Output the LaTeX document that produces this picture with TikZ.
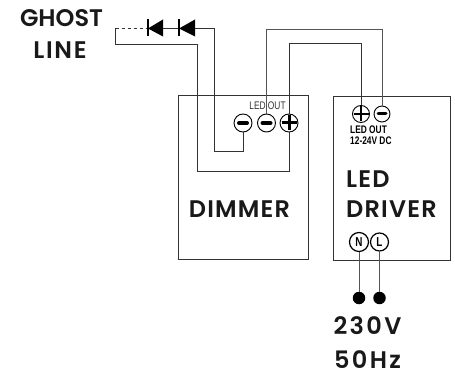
\documentclass[tikz,border=0pt]{standalone}
\usepackage{fontspec}
\setmainfont{Poppins}[BoldFont={Poppins SemiBold}]
\newfontfamily\condfont[FakeStretch=0.76]{Liberation Sans}
\newfontfamily\spacedA[LetterSpace=5,BoldFont={Poppins SemiBold}]{Poppins}
\newfontfamily\spacedB[LetterSpace=0,BoldFont={Poppins SemiBold}]{Poppins}
\newfontfamily\spacedC[LetterSpace=10,BoldFont={Poppins SemiBold}]{Poppins}
\newfontfamily\spacedD[LetterSpace=7,BoldFont={Poppins SemiBold}]{Poppins}
\definecolor{wiredark}{gray}{0.2}
\definecolor{wiregray}{gray}{0.33}
\begin{document}
\begin{tikzpicture}[x=1pt,y=-1pt,
  boxnode/.style={draw=wiredark,line width=1pt,inner sep=0pt,minimum width=#1,anchor=north west},
  term/.style={circle,draw=black,line width=0.9pt,inner sep=0pt,minimum size=#1,fill=white},
  wire/.style={draw=wiredark,line width=1pt},
  graywire/.style={draw=wiregray,line width=1pt},
  dotnode/.style={circle,fill=black,inner sep=0pt,minimum size=12.5pt},
  biglabel/.style={font=\fontsize{24}{24}\selectfont\spacedA\bfseries,text=black!90,inner sep=0pt,align=center},
  tinylabel/.style={font=\fontsize{11}{11}\selectfont\condfont\bfseries,inner sep=0pt,text=black},
  ledlabel/.style={font=\fontsize{11}{11}\selectfont\condfont,inner sep=0pt,text=black!80},
  sym/.style={line width=3pt,black}]
\useasboundingbox (0,0) rectangle (455,374);
\fill[white] (0,0) rectangle (455,374);
% boxes
\node[boxnode=130pt,minimum height=163pt] (dimmer) at (177.5,95.5) {};
\node[boxnode=117pt,minimum height=163pt] (driver) at (332.5,96.5) {};
% terminals
\node[term=18pt] (dm1) at (243,123) {};
\node[term=18pt] (dm2) at (266.5,123) {};
\node[term=18pt] (dp) at (289,123) {};
\node[term=17pt] (lp) at (361,114) {};
\node[term=16pt] (lm) at (382,114) {};
\node[term=19pt,line width=1.2pt] (tn) at (359,242) {};
\node[term=18pt,line width=1.2pt] (tl) at (379.5,242) {};
\node[dotnode] (dotn) at (359,298) {};
\node[dotnode] (dotl) at (379.5,298) {};
% ghost line
\coordinate (gs) at (115.5,28.5);
\coordinate (d1) at (148,28.5);
\coordinate (d1b) at (163,28.5);
\coordinate (d2) at (179,28.5);
\coordinate (d2b) at (195,28.5);
\coordinate (tr) at (214.5,28.5);
\coordinate (br) at (115.5,44.5);
\coordinate (bd) at (197.5,44.5);
% wires
\draw[wire] (d2b) -- (tr) -- (tr |- 0,151.5) -| (dm1.south);
\draw[wire] (d1b) -- (d2);
\draw[graywire,draw=wiredark] (gs) -- (br) -- (bd) -- (bd |- 0,171.5) -| (dp.south);
\draw[wire,dash pattern=on 3pt off 3pt] (gs) -- (d1);
\draw[graywire] (dm2.north) -- (dm2.north |- 0,29.5) -| (lm.north);
\draw[wire] (dp.north) -- (dp.north |- 0,43.5) -| (lp.north);
\draw[graywire] (tn.south) -- (dotn);
\draw[graywire] (tl.south) -- (dotl);
% diodes
\fill[black] (d1b |- 0,19.5) -- (d1) -- (d1b |- 0,36.5) -- cycle;
\draw[black,line width=1.4pt] (148,19.5) -- (148,36.5);
\fill[black] (d2b |- 0,19.5) -- (d2) -- (d2b |- 0,36.5) -- cycle;
\draw[black,line width=1.4pt] (179,19.5) -- (179,36.5);
% symbols
\draw[sym,line width=4pt,line cap=round] (239,123) -- (247,123);
\draw[sym,line width=4pt,line cap=round] (262.5,123) -- (270.5,123);
\draw[sym] (281.5,123) -- (296.5,123) (289,115.5) -- (289,130.5);
\draw[sym,line width=2.2pt] (353.5,114) -- (368.5,114) (361,106.5) -- (361,121.5);
\draw[sym,line width=3pt,line cap=round] (378,114) -- (386,114);
\node[tinylabel,font=\fontsize{13}{13}\selectfont\condfont\bfseries] at (tn) {N};
\node[tinylabel,font=\fontsize{13}{13}\selectfont\condfont\bfseries] at (tl) {L};
% labels
\node[ledlabel] (ledout) at (267.5,106) {LED OUT};
\node[tinylabel,anchor=west] (ledoutb) at (350,130) {LED OUT};
\node[tinylabel,anchor=west] (volts) at (350,141) {12-24V DC};
\node[biglabel,font=\fontsize{24}{24}\selectfont\spacedB\bfseries] (ghost) at (61.5,18.5) {GHOST};
\node[biglabel,font=\fontsize{24}{24}\selectfont\spacedD\bfseries] (linelbl) at (60,50) {LINE};
\node[biglabel] (dimlbl) at (239.5,209.5) {DIMMER};
\node[biglabel,anchor=west] (ledlbl) at (346,179) {LED};
\node[biglabel,anchor=west] (drvlbl) at (346,209.5) {DRIVER};
\node[biglabel,font=\fontsize{24}{24}\selectfont\spacedC\bfseries] (v) at (367.5,326) {230V};
\node[biglabel,font=\fontsize{24}{24}\selectfont\spacedC\bfseries] (hz) at (367.5,359.5) {50Hz};
\end{tikzpicture}
\end{document}
